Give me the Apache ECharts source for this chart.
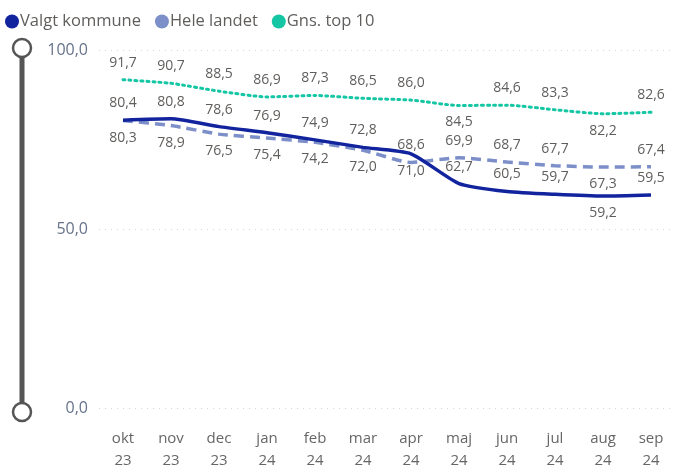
<!DOCTYPE html>
<html>
<head>
<meta charset="utf-8">
<script src="https://cdn.jsdelivr.net/npm/echarts@6/dist/echarts.min.js"></script>
<style>
html,body{margin:0;padding:0;background:#fff;}
#chart{width:675px;height:472px;}
</style>
</head>
<body>
<div id="chart"></div>
<script>
var categories = ["okt\n23","nov\n23","dec\n23","jan\n24","feb\n24","mar\n24","apr\n24","maj\n24","jun\n24","jul\n24","aug\n24","sep\n24"];
var valgtKommune = [80.4, 80.8, 78.6, 76.9, 74.9, 72.8, 71.0, 62.7, 60.5, 59.7, 59.2, 59.5];
var heleLandet   = [80.3, 78.9, 76.5, 75.4, 74.2, 72.0, 68.6, 69.9, 68.7, 67.7, 67.3, 67.4];
var gnsTop10     = [91.7, 90.7, 88.5, 86.9, 87.3, 86.5, 86.0, 84.5, 84.6, 83.3, 82.2, 82.6];
var yTicks = [0, 50, 100];

var FONT = '"Open Sans", "Noto Sans", sans-serif';
function fmt(v){ return Number(v).toFixed(1).replace('.', ','); }

// label placement (below = true) per series, by point index
var belowValgt = [6, 10];
var belowHele  = [0, 1, 2, 3, 4, 5, 10];
var belowGns   = [7, 10];

function buildData(values, belowIdx){
  return values.map(function(v, i){
    return {
      value: v,
      label: { position: belowIdx.indexOf(i) >= 0 ? 'bottom' : 'top' }
    };
  });
}

var labelStyle = {
  show: true,
  distance: 10,
  color: '#605E5C',
  fontSize: 14,
  fontFamily: FONT,
  formatter: function(p){ return fmt(p.value); }
};

var chart = echarts.init(document.getElementById('chart'), null, {renderer: 'canvas'});
chart.setOption({
  animation: false,
  backgroundColor: '#ffffff',
  legend: {
    left: 0,
    top: 8,
    icon: 'circle',
    itemWidth: 14,
    itemHeight: 14,
    itemGap: 14,
    textStyle: { color: '#605E5C', fontSize: 16.5, fontFamily: FONT, padding: [0, 0, 0, -4] },
    data: ['Valgt kommune', 'Hele landet', 'Gns. top 10']
  },
  grid: { left: 99, right: -6, top: 50, bottom: 60, containLabel: false },
  xAxis: {
    type: 'category',
    data: categories,
    boundaryGap: true,
    axisLine: { show: false },
    axisTick: { show: false },
    axisLabel: { color: '#666666', fontSize: 15, fontFamily: FONT, lineHeight: 22, margin: 20, interval: 0 }
  },
  yAxis: {
    type: 'value',
    min: yTicks[0],
    max: yTicks[yTicks.length - 1],
    interval: yTicks[1] - yTicks[0],
    axisLine: { show: false },
    axisTick: { show: false },
    axisLabel: { color: '#66738a', fontSize: 16, fontFamily: FONT, margin: 11, formatter: function(v){ return fmt(v); } },
    splitLine: { show: true, lineStyle: { color: '#d4d4d4', type: [1, 5], width: 1 } }
  },
  series: [
    {
      name: 'Valgt kommune', type: 'line', symbol: 'circle', symbolSize: 0.01, showSymbol: true, smooth: 0.2, z: 4,
      data: buildData(valgtKommune, belowValgt),
      itemStyle: { color: '#12239E' },
      lineStyle: { color: '#12239E', width: 3.5 },
      label: labelStyle,
      labelLayout: { hideOverlap: false }
    },
    {
      name: 'Hele landet', type: 'line', symbol: 'circle', symbolSize: 0.01, showSymbol: true, smooth: 0.2, z: 3,
      data: buildData(heleLandet, belowHele),
      itemStyle: { color: '#7C8FC8' },
      lineStyle: { color: '#7C8FC8', width: 3.5, type: [10, 6] },
      label: labelStyle,
      labelLayout: { hideOverlap: false }
    },
    {
      name: 'Gns. top 10', type: 'line', symbol: 'circle', symbolSize: 0.01, showSymbol: true, smooth: 0.2, z: 2,
      data: buildData(gnsTop10, belowGns),
      itemStyle: { color: '#14C6A4' },
      lineStyle: { color: '#14C6A4', width: 3, type: [2, 4], cap: 'round' },
      label: labelStyle,
      labelLayout: { hideOverlap: false }
    }
  ],
  graphic: [
    { type: 'rect', shape: { x: 19.5, y: 48, width: 5, height: 364 }, style: { fill: '#555555' }, z: 10 },
    { type: 'circle', shape: { cx: 22, cy: 48, r: 9 }, style: { fill: '#ffffff', stroke: '#555555', lineWidth: 2.5 }, z: 11 },
    { type: 'circle', shape: { cx: 22, cy: 412, r: 9 }, style: { fill: '#ffffff', stroke: '#555555', lineWidth: 2.5 }, z: 11 }
  ]
});
</script>
</body>
</html>
